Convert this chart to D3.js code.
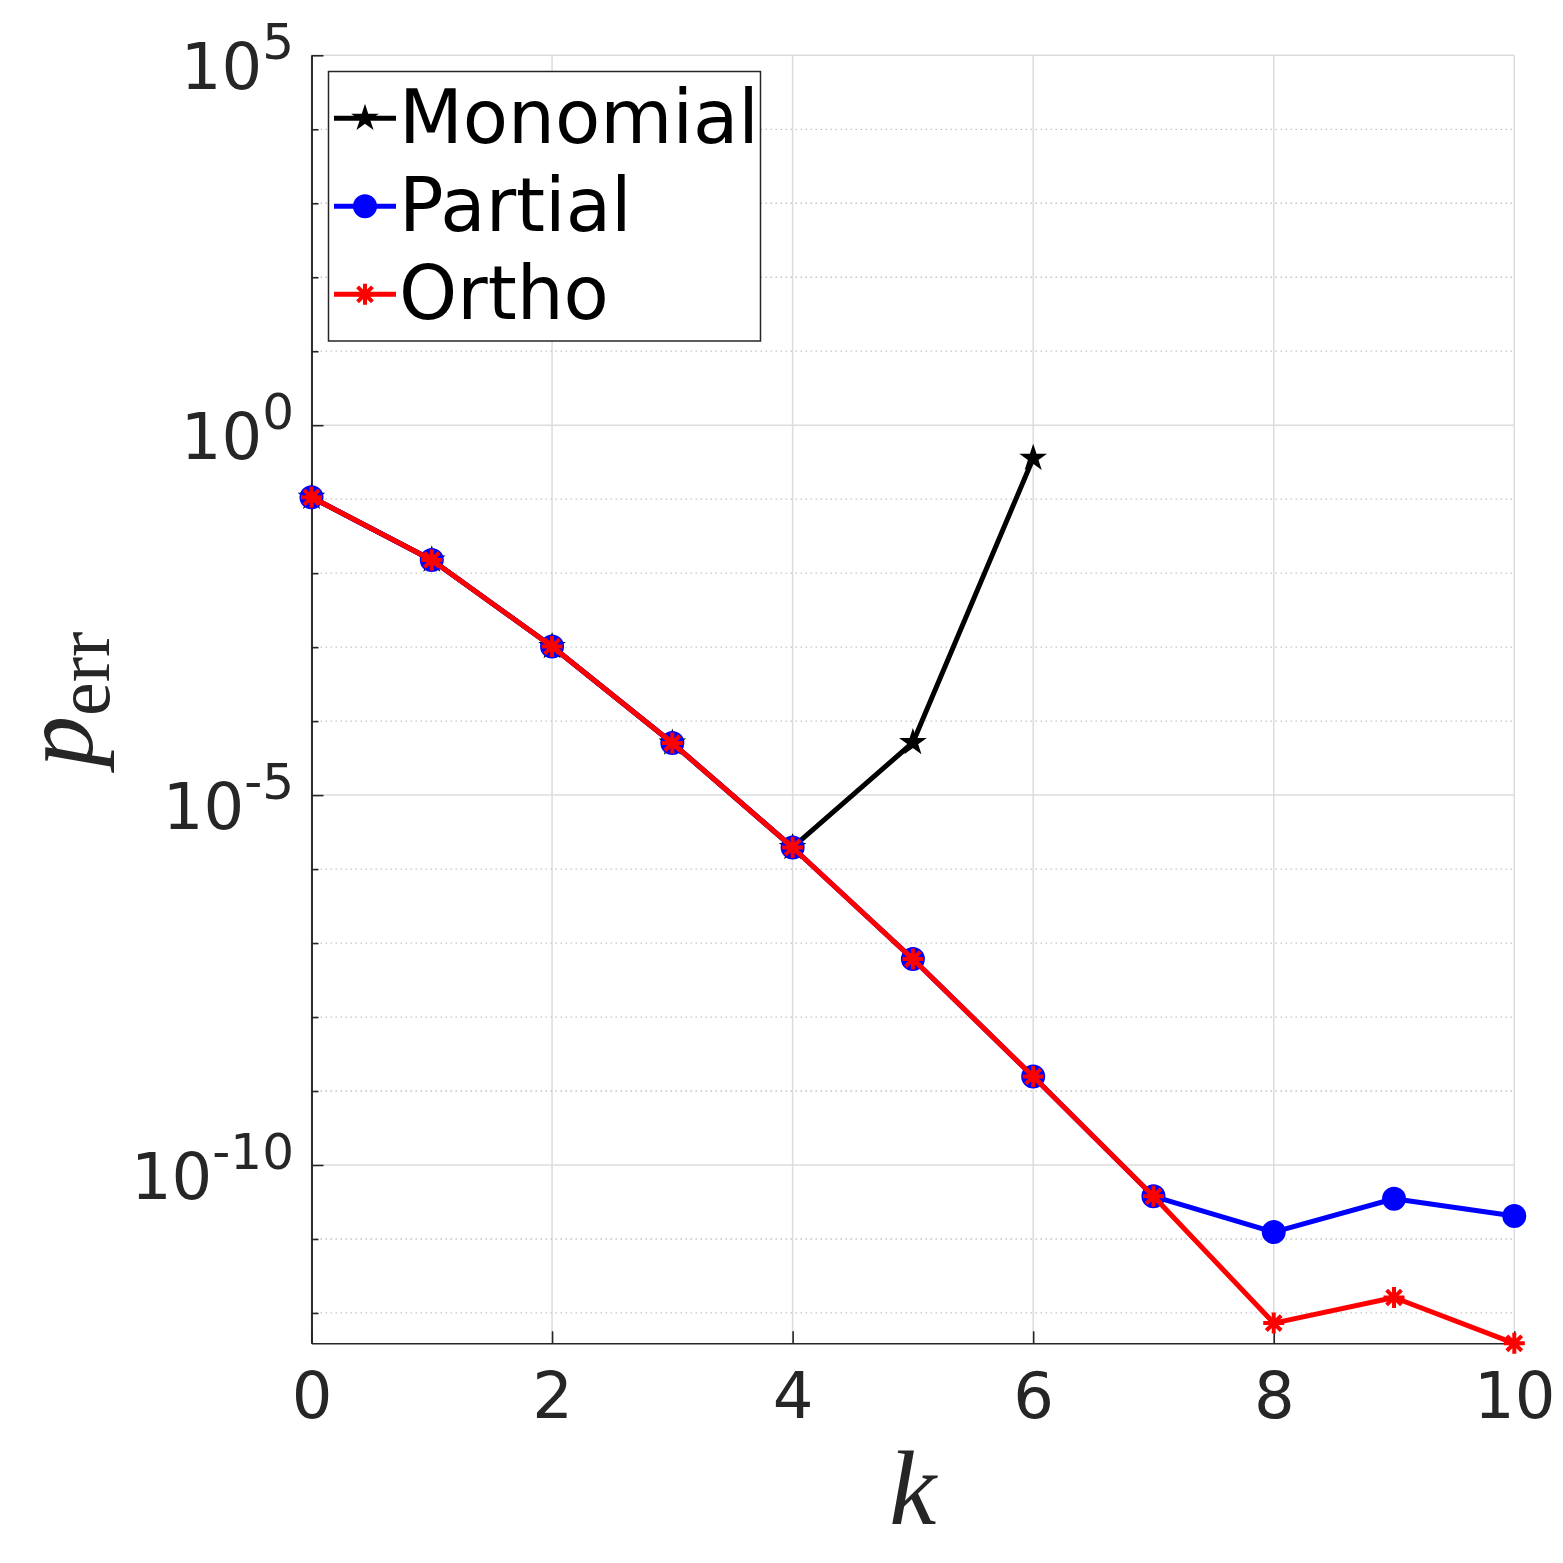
<!DOCTYPE html>
<html>
<head>
<meta charset="utf-8">
<script src="https://cdn.jsdelivr.net/npm/d3@7"></script>
<style>
  html, body { margin: 0; padding: 0; background: #fff; }
  svg { display: block; }
</style>
</head>
<body>
<svg id="chart" width="1563" height="1563"></svg>
<script>
// Values (p_err against k, log scale)
const kValues     = [0, 1, 2, 3, 4, 5, 6, 7, 8, 9, 10];
const monomialErr = [1.06e-1, 1.51e-2, 1.02e-3, 5.05e-5, 1.96e-6, 5.14e-5, 3.58e-1];
const partialErr  = [1.06e-1, 1.51e-2, 1.02e-3, 5.05e-5, 1.96e-6, 6.08e-8, 1.57e-9, 3.77e-11, 1.24e-11, 3.5e-11, 2.05e-11];
const orthoErr    = [1.06e-1, 1.51e-2, 1.02e-3, 5.05e-5, 1.96e-6, 6.08e-8, 1.57e-9, 3.77e-11, 7.3e-13, 1.62e-12, 3.89e-13];
const seriesNames = ["Monomial", "Partial", "Ortho"];
const xTickValues = [0, 2, 4, 6, 8, 10];
const yMajorExps  = [5, 0, -5, -10];
const yTopValue   = 1e5;

const svg = d3.select("#chart");
const AXIS_COLOR = "#262626";
const TICK_FONT  = "'DejaVu Sans', sans-serif";
const MATH_FONT  = "'Liberation Serif', 'Times New Roman', serif";
const LINE_W     = 5;

// Plot box
const plotLeft = 311.5, plotRight = 1514.3, plotTop = 55.3, plotBottom = 1343.3;

const allErr = [].concat(monomialErr, partialErr, orthoErr);
const yMin = d3.min(allErr);

const x = d3.scaleLinear().domain([0, 10]).range([plotLeft, plotRight]);
const y = d3.scaleLog().domain([yMin, yTopValue]).range([plotBottom, plotTop]);

// every decade inside the domain
const decades = d3.range(Math.ceil(Math.log10(yMin)), 6).map(e => Math.pow(10, e));
const majorVals = yMajorExps.map(e => Math.pow(10, e));
const minorVals = decades.filter(v => !majorVals.some(m => Math.abs(Math.log10(m) - Math.log10(v)) < 1e-9));

// Grid
const grid = svg.append("g");
grid.selectAll(".vgrid").data(xTickValues).enter().append("line")
  .attr("x1", d => x(d)).attr("x2", d => x(d))
  .attr("y1", plotTop).attr("y2", plotBottom)
  .attr("stroke", "#dcdcdc").attr("stroke-width", 1.5);
grid.selectAll(".hmajor").data(majorVals).enter().append("line")
  .attr("x1", plotLeft).attr("x2", plotRight)
  .attr("y1", d => y(d)).attr("y2", d => y(d))
  .attr("stroke", "#dcdcdc").attr("stroke-width", 1.5);
grid.selectAll(".hminor").data(minorVals).enter().append("line")
  .attr("x1", plotLeft + 4).attr("x2", plotRight)
  .attr("y1", d => y(d)).attr("y2", d => y(d))
  .attr("stroke", "#c4c4c4").attr("stroke-width", 1.3)
  .attr("stroke-dasharray", "1.5,3.5");

// Axes (ticks point inward)
function styleAxis(g) {
  g.selectAll("path, line").attr("stroke", AXIS_COLOR).attr("stroke-width", 1.6);
}

svg.append("g")
  .attr("transform", `translate(${plotLeft},0)`)
  .call(d3.axisLeft(y).tickValues(minorVals).tickSize(-7).tickSizeOuter(0).tickFormat(""))
  .call(styleAxis);
svg.append("g")
  .attr("transform", `translate(${plotLeft},0)`)
  .call(d3.axisLeft(y).tickValues(majorVals).tickSize(-12).tickSizeOuter(0).tickFormat(""))
  .call(styleAxis);

const xAxis = svg.append("g")
  .attr("transform", `translate(0,${plotBottom})`)
  .call(d3.axisBottom(x).tickValues(xTickValues).tickSize(-12).tickSizeOuter(0).tickPadding(29))
  .call(styleAxis);
xAxis.selectAll("text")
  .attr("font-family", TICK_FONT).attr("font-size", 64).attr("fill", AXIS_COLOR);

// y tick labels: 10^e
const yLabels = svg.append("g");
yMajorExps.forEach(e => {
  const t = yLabels.append("text")
    .attr("x", 294).attr("y", y(Math.pow(10, e)) + 34)
    .attr("text-anchor", "end")
    .attr("font-family", TICK_FONT).attr("fill", AXIS_COLOR);
  t.append("tspan").attr("font-size", 64).text("10");
  t.append("tspan").attr("font-size", 50).attr("dy", -30).text(String(e));
});

// Axis titles
svg.append("text")
  .attr("x", (plotLeft + plotRight) / 2).attr("y", 1524)
  .attr("text-anchor", "middle")
  .attr("font-family", MATH_FONT).attr("font-style", "italic")
  .attr("font-size", 106).attr("fill", AXIS_COLOR)
  .text("k");

const yTitle = svg.append("text")
  .attr("transform", `translate(92,${(plotTop + plotBottom) / 2}) rotate(-90)`)
  .attr("text-anchor", "middle")
  .attr("font-family", MATH_FONT).attr("fill", AXIS_COLOR);
yTitle.append("tspan").attr("font-style", "italic").attr("font-size", 102).text("p");
yTitle.append("tspan").attr("font-size", 76).attr("dy", 17).text("err");

// Marker shapes
const asterisk8 = {
  draw(ctx, size) {
    const r = Math.sqrt(size) / 2;
    const d = r * Math.SQRT1_2;
    ctx.moveTo(0, -r); ctx.lineTo(0, r);
    ctx.moveTo(-r, 0); ctx.lineTo(r, 0);
    ctx.moveTo(-d, -d); ctx.lineTo(d, d);
    ctx.moveTo(-d, d); ctx.lineTo(d, -d);
  }
};

const series = [
  { name: seriesNames[0], values: monomialErr, color: "#000000",
    symbol: d3.symbol().type(d3.symbolStar).size(124), fill: "#000000", mw: 2.5 },
  { name: seriesNames[1], values: partialErr, color: "#0000ff",
    symbol: d3.symbol().type(d3.symbolCircle).size(Math.PI * 10.5 * 10.5), fill: "#0000ff", mw: 3 },
  { name: seriesNames[2], values: orthoErr, color: "#ff0000",
    symbol: d3.symbol().type(asterisk8).size(441), fill: "none", mw: 4 }
];

const line = d3.line()
  .x((d, i) => x(kValues[i]))
  .y(d => y(d));

series.forEach(s => {
  const g = svg.append("g");
  g.append("path")
    .attr("d", line(s.values))
    .attr("fill", "none")
    .attr("stroke", s.color)
    .attr("stroke-width", LINE_W)
    .attr("stroke-linejoin", "round");
  g.selectAll(".mk").data(s.values).enter().append("path")
    .attr("transform", (d, i) => `translate(${x(kValues[i])},${y(d)})`)
    .attr("d", s.symbol())
    .attr("fill", s.fill)
    .attr("stroke", s.color)
    .attr("stroke-width", s.mw);
});

// Legend
const legend = svg.append("g");
legend.append("rect")
  .attr("x", 328.5).attr("y", 71.5)
  .attr("width", 432).attr("height", 269.5)
  .attr("fill", "#fff")
  .attr("stroke", AXIS_COLOR).attr("stroke-width", 1.5);

series.forEach((s, i) => {
  const rowY = 118.3 + i * 88;
  legend.append("line")
    .attr("x1", 334).attr("x2", 396)
    .attr("y1", rowY).attr("y2", rowY)
    .attr("stroke", s.color).attr("stroke-width", LINE_W);
  legend.append("path")
    .attr("transform", `translate(365,${rowY})`)
    .attr("d", s.symbol())
    .attr("fill", s.fill)
    .attr("stroke", s.color)
    .attr("stroke-width", s.mw);
  legend.append("text")
    .attr("x", 399).attr("y", rowY + 25)
    .attr("font-family", TICK_FONT).attr("font-size", 74)
    .attr("fill", "#000")
    .text(s.name);
});
</script>
</body>
</html>
